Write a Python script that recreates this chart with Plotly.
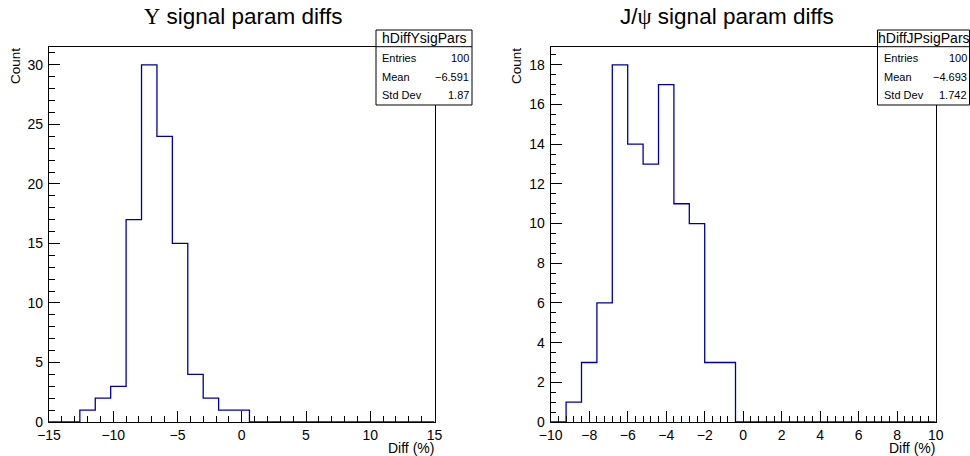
import plotly.graph_objects as go

W, H = 970, 456

# ---------------- data ----------------
ups_edges_lo, ups_edges_hi, ups_nbins = -15.0, 15.0, 25
ups_counts = [0, 0, 1, 2, 3, 17, 30, 24, 15, 4, 2, 1, 1,
              0, 0, 0, 0, 0, 0, 0, 0, 0, 0, 0, 0]
jp_edges_lo, jp_edges_hi, jp_nbins = -10.0, 10.0, 25
jp_counts = [0, 1, 3, 6, 18, 14, 13, 17, 11, 10, 3, 3,
             0, 0, 0, 0, 0, 0, 0, 0, 0, 0, 0, 0, 0]

ups_xticks = [-15, -10, -5, 0, 5, 10, 15]
ups_yticks = [0, 5, 10, 15, 20, 25, 30]
jp_xticks = [-10, -8, -6, -4, -2, 0, 2, 4, 6, 8, 10]
jp_yticks = [0, 2, 4, 6, 8, 10, 12, 14, 16, 18]

ups_stats = [("Entries", "100"), ("Mean", "\u22126.591"), ("Std Dev", "1.87")]
jp_stats = [("Entries", "100"), ("Mean", "\u22124.693"), ("Std Dev", "1.742")]

ups_title = '<span style="font-family:Liberation Serif">\u03a5</span> signal param diffs'
jp_title = 'J/<span style="font-family:Liberation Serif">\u03c8</span> signal param diffs'


def lab(v):
    return ("\u2212" + str(abs(v))) if v < 0 else str(v)


def px(x):
    return x / W


def py(y):
    return 1 - y / H


FONT = "Liberation Sans, Arial, sans-serif"
LINE = "#000099"

fig = go.Figure()


def step_xy(lo, hi, n, counts):
    w = (hi - lo) / n
    xs = [lo + i * w for i in range(n + 1)]
    ys = list(counts) + [counts[-1]]
    return xs, ys


panels = [
    dict(xa="x", ya="y", lo=ups_edges_lo, hi=ups_edges_hi, n=ups_nbins, c=ups_counts,
         x0=49.0, x1=434.5, ymax=max(ups_counts) * 1.05, xt=ups_xticks, yt=ups_yticks,
         xminor=1.0, yminor=1.0, title=ups_title, tx=242.5, name="hDiffYsigPars",
         stats=ups_stats, bx0=376, bx1=472, countx=15),
    dict(xa="x2", ya="y2", lo=jp_edges_lo, hi=jp_edges_hi, n=jp_nbins, c=jp_counts,
         x0=550.7, x1=935.7, ymax=max(jp_counts) * 1.05, xt=jp_xticks, yt=jp_yticks,
         xminor=0.4, yminor=0.5, title=jp_title, tx=727, name="hDiffJPsigPars",
         stats=jp_stats, bx0=877.5, bx1=969.5, countx=516),
]

Y0, Y1 = 422.0, 47.0
shapes = []
annotations = []
layout_axes = {}

for i, p in enumerate(panels):
    xs, ys = step_xy(p["lo"], p["hi"], p["n"], p["c"])
    fig.add_trace(go.Scatter(x=xs, y=ys, mode="lines", line=dict(color=LINE, width=1.3, shape="hv"),
                             xaxis=p["xa"], yaxis=p["ya"], showlegend=False, hoverinfo="skip"))
    sfx = "" if i == 0 else "2"
    common = dict(showline=True, linecolor="black", linewidth=1.3, mirror=True,
                  ticks="inside", ticklen=11, tickwidth=1, tickcolor="black",
                  showgrid=False, zeroline=False, tickmode="array", automargin=False,
                  tickfont=dict(family=FONT, size=14, color="black"))
    layout_axes["xaxis" + sfx] = dict(
        common, domain=[px(p["x0"]), px(p["x1"])], range=[p["lo"], p["hi"]],
        anchor="y" + sfx, tickvals=p["xt"], ticktext=[lab(v) for v in p["xt"]],
        ticklabelstandoff=0,
        minor=dict(ticks="inside", ticklen=5.5, tickwidth=1, tickcolor="black",
                   tickmode="linear", tick0=p["lo"], dtick=p["xminor"], showgrid=False))
    layout_axes["yaxis" + sfx] = dict(
        common, domain=[py(Y0), py(Y1)], range=[0, p["ymax"]],
        anchor="x" + sfx, tickvals=p["yt"], ticktext=[lab(v) for v in p["yt"]],
        ticklabelstandoff=2,
        minor=dict(ticks="inside", ticklen=5.5, tickwidth=1, tickcolor="black",
                   tickmode="linear", tick0=0, dtick=p["yminor"], showgrid=False))

    # title
    annotations.append(dict(text=p["title"], x=px(p["tx"]), y=py(17), xref="paper", yref="paper",
                            xanchor="center", yanchor="middle", showarrow=False,
                            font=dict(family=FONT, size=22.5, color="black")))
    # axis titles
    annotations.append(dict(text="Count", textangle=-90, x=px(p["countx"]), y=py(46),
                            xref="paper", yref="paper", xanchor="center", yanchor="top",
                            showarrow=False, font=dict(family=FONT, size=13.5, color="black")))
    annotations.append(dict(text="Diff (%)", x=px(p["x1"] + 1), y=py(447.5), xref="paper", yref="paper",
                            xanchor="right", yanchor="middle", showarrow=False,
                            font=dict(family=FONT, size=14, color="black")))
    # stats box
    bx0, bx1 = p["bx0"], p["bx1"]
    shapes.append(dict(type="rect", xref="paper", yref="paper", x0=px(bx0), x1=px(bx1),
                       y0=py(105), y1=py(30), line=dict(color="black", width=1), fillcolor="white",
                       layer="above"))
    shapes.append(dict(type="line", xref="paper", yref="paper", x0=px(bx0), x1=px(bx1),
                       y0=py(46.7), y1=py(46.7), line=dict(color="black", width=1), layer="above"))
    annotations.append(dict(text=p["name"], x=px((bx0 + bx1) / 2), y=py(38.5), xref="paper",
                            yref="paper", xanchor="center", yanchor="middle", showarrow=False,
                            font=dict(family=FONT, size=14, color="black")))
    rows_y = [57.5, 76.5, 95.0]
    for (k, v), ry in zip(p["stats"], rows_y):
        annotations.append(dict(text=k, x=px(bx0 + 4), y=py(ry), xref="paper", yref="paper",
                                xanchor="left", yanchor="middle", showarrow=False,
                                font=dict(family=FONT, size=11, color="black")))
        annotations.append(dict(text=v, x=px(bx1 - 1), y=py(ry), xref="paper", yref="paper",
                                xanchor="right", yanchor="middle", showarrow=False,
                                font=dict(family=FONT, size=11, color="black")))

fig.update_layout(
    width=W, height=H, autosize=False,
    margin=dict(l=0, r=0, t=0, b=0),
    paper_bgcolor="white", plot_bgcolor="white",
    shapes=shapes, annotations=annotations, showlegend=False,
    **layout_axes,
)

fig.write_html("out.html", config={"displayModeBar": False},
               post_script="document.body.style.margin='0px';document.body.style.overflow='hidden';")
